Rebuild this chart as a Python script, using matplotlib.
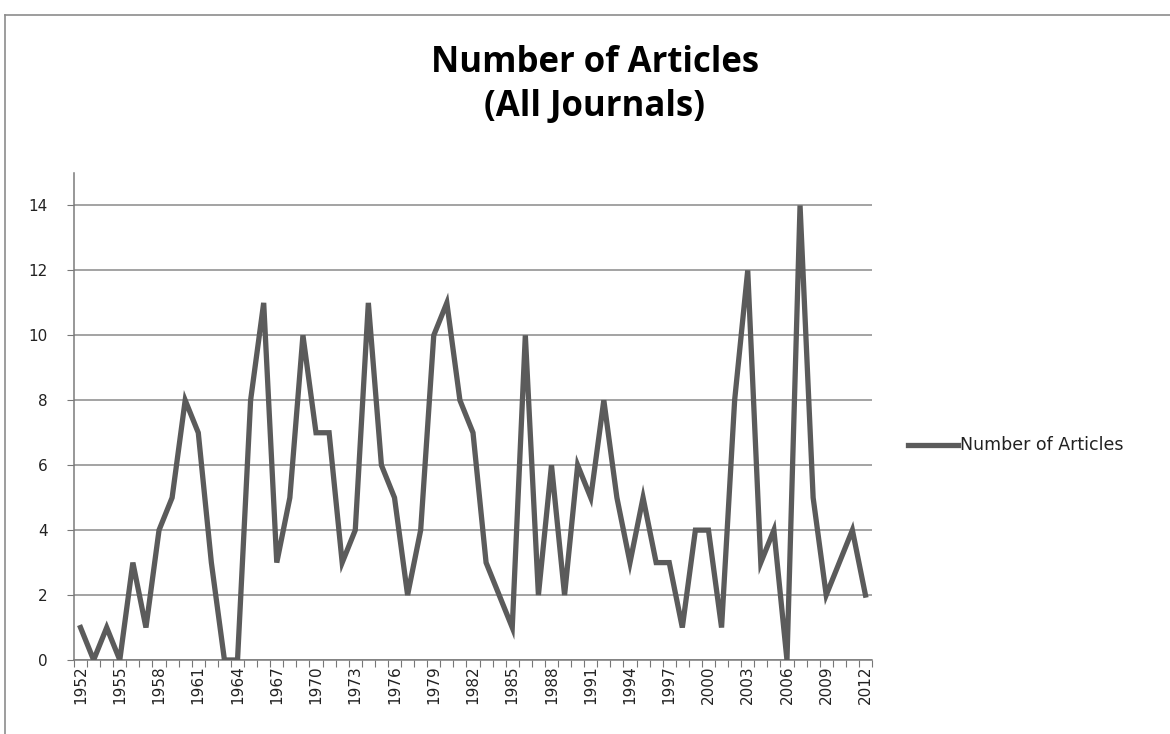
import matplotlib
matplotlib.use("Agg")
import matplotlib.pyplot as plt
from matplotlib.lines import Line2D
import numpy as np

years = list(range(1952, 2013))
articles = [1, 0, 1, 0, 3, 1, 4, 5, 8, 7,
            3, 0, 0, 8, 11, 3, 5, 10, 7, 7,
            3, 4, 11, 6, 5, 2, 4, 10, 11, 8,
            7, 3, 2, 1, 10, 2, 6, 2, 6, 5,
            8, 5, 3, 5, 3, 3, 1, 4, 4, 1,
            8, 12, 3, 4, 0, 14, 5, 2, 3, 4,
            2]
series_name = "Number of Articles"
title_lines = ["Number of Articles", "(All Journals)"]
y_ticks = [0, 2, 4, 6, 8, 10, 12, 14]

W, H = 1170, 734
fig = plt.figure(figsize=(W / 100, H / 100), dpi=100)
fig.patch.set_facecolor("white")

# outer chart frame (top and left edges)
frame_col = "#8c8c8c"
fig.add_artist(Line2D([5 / W, 1.0], [1 - 15 / H, 1 - 15 / H], color=frame_col, lw=1.2))
fig.add_artist(Line2D([5 / W, 5 / W], [0.0, 1 - 15 / H], color=frame_col, lw=1.2))

ax = fig.add_axes([74 / W, 1 - 660 / H, (872 - 74) / W, (660 - 173) / H])
x = np.arange(len(years))
line_col = "#5b5b5b"
ax.plot(x, articles, color=line_col, lw=3.8, solid_joinstyle="miter", label=series_name, zorder=3)

ax.set_xlim(-0.5, len(years) - 0.5)
ax.set_ylim(0, 15)
ax.set_yticks(y_ticks)
ax.set_yticklabels([str(v) for v in y_ticks], fontsize=11, color="#222222")

# category ticks at boundaries, labels every third year
ax.set_xticks(np.arange(-0.5, len(years) + 0.5, 1.0), minor=False)
ax.set_xticklabels([])
lab_idx = list(range(0, len(years), 3))
ax.set_xticks(lab_idx, minor=True)
ax.set_xticklabels([str(years[i]) for i in lab_idx], minor=True, rotation=90,
                   fontsize=11, color="#222222")
ax.tick_params(axis="x", which="minor", length=0, pad=4)
ax.tick_params(axis="x", which="major", length=5, color="#777777", direction="out")
ax.tick_params(axis="y", length=5, color="#777777", pad=14)

ax.grid(axis="y", color="#8a8a8a", lw=1.1, zorder=0)
ax.set_axisbelow(True)
for s in ["top", "right"]:
    ax.spines[s].set_visible(False)
for s in ["left", "bottom"]:
    ax.spines[s].set_color("#7a7a7a")
    ax.spines[s].set_linewidth(1.1)

fig.text(595 / W, 1 - 63 / H, title_lines[0], ha="center", va="center",
         fontsize=25, fontweight="bold", family="Open Sans")
fig.text(595 / W, 1 - 107 / H, title_lines[1], ha="center", va="center",
         fontsize=25, fontweight="bold", family="Open Sans")

# legend to the right of the plot
fig.add_artist(Line2D([908 / W, 958 / W], [1 - 445 / H, 1 - 445 / H], color=line_col, lw=3.8))
fig.text(960 / W, 1 - 445 / H, series_name, ha="left", va="center", fontsize=12.5,
         color="#222222")

fig.savefig("out.png", dpi=100, facecolor="white")
